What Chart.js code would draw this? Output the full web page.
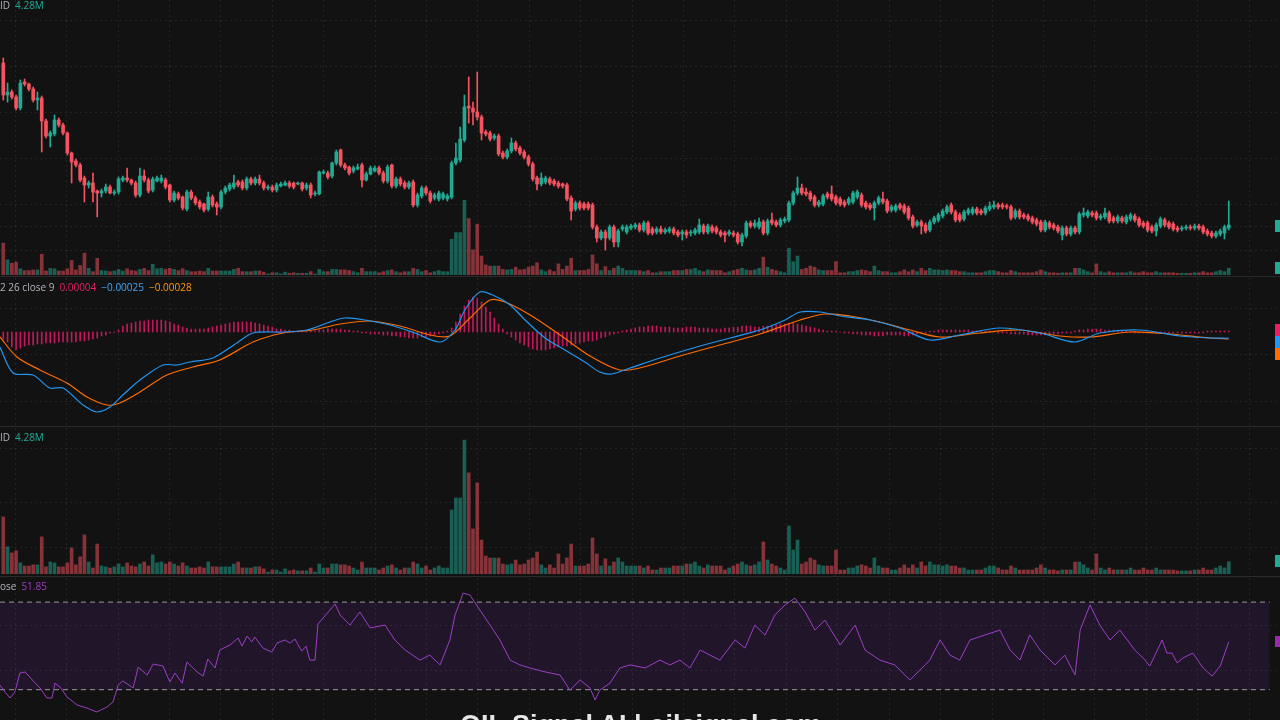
<!DOCTYPE html>
<html>
<head>
<meta charset="utf-8">
<script src="https://cdn.jsdelivr.net/npm/chart.js@4.4.1/dist/chart.umd.min.js"></script>
<style>
  html, body { margin: 0; padding: 0; background: #121212; width: 1280px; height: 720px; overflow: hidden; font-family: "Open Sans", "Noto Sans", sans-serif; }
  canvas { position: absolute; left: 0; }
  .sep { position: absolute; left: 0; width: 1280px; height: 1px; background: #2a2a2a; }
  .lbl { position: absolute; left: 0; font-size: 10px; line-height: 12px; color: #b2b5be; white-space: nowrap; }
  .lbl span { margin-left: 5px; }
  .tag { position: absolute; left: 1275px; width: 5px; }
  .wm { position: absolute; left: 460px; top: 709px; font: bold 27px "Liberation Sans", Arial, sans-serif; line-height: 32px; color: #e6e6e6; white-space: nowrap; }
</style>
</head>
<body>
<canvas id="priceChart" width="1280" height="275" style="top:0"></canvas>
<canvas id="macdChart" width="1280" height="147" style="top:278px"></canvas>
<canvas id="volChart" width="1280" height="146" style="top:428px"></canvas>
<canvas id="rsiChart" width="1280" height="142" style="top:578px"></canvas>

<div class="sep" style="top:276px"></div>
<div class="sep" style="top:426px"></div>
<div class="sep" style="top:576px"></div>

<div class="lbl" style="top:-1px">ID<span style="color:#22ab94">4.28M</span></div>
<div class="lbl" style="top:281px">2 26 close 9<span style="color:#e91e63">0.00004</span><span style="color:#42a5f5">−0.00025</span><span style="color:#ff9800">−0.00028</span></div>
<div class="lbl" style="top:431px">ID<span style="color:#22ab94">4.28M</span></div>
<div class="lbl" style="top:580px">ose<span style="color:#9c3fc4">51.85</span></div>

<div class="tag" style="top:220px;height:12px;background:#22ab94"></div>
<div class="tag" style="top:262px;height:12px;background:#22ab94"></div>
<div class="tag" style="top:324px;height:12px;background:#e91e63"></div>
<div class="tag" style="top:336px;height:12px;background:#2196f3"></div>
<div class="tag" style="top:348px;height:12px;background:#ff6d00"></div>
<div class="tag" style="top:555px;height:12px;background:#22ab94"></div>
<div class="tag" style="top:636px;height:11px;background:#9c27b0"></div>

<div class="wm">OIL Signal AI | oilsignal.com</div>

<script>
// candles, oldest first
const openP = [
  217,185,188,183,172,198,196,191,180,182, 159,144,146,160,155,147,127,119,115,102,
  95,97,89,87,89,93,87,88,100,102, 100,97,85,104,100,90,99,99,100,95,
  80,86,83,71,88,82,78,76,71,83, 76,73,88,91,93,98,98,92,101,97,
  101,97,92,93,90,94,95,97,97,96, 97,92,95,86,86,107,107,104,117,130,
  115,113,109,111,115,100,106,109,112,107, 99,115,94,101,97,93,98,75,84,92,
  87,82,81,82,81,83,117,120,140,174, 172,168,163,148,147,142,144,127,123,129,
  137,132,128,123,116,102,96,98,101,99, 97,96,95,82,71,77,76,76,75,53,
  42,48,42,53,38,51,48,52,53,55, 50,57,51,48,51,48,49,51,48,46,
  48,47,47,48,54,48,53,52,48,47, 46,47,46,38,44,57,54,53,58,47,
  60,58,55,59,60,77,87,92,88,87, 83,75,76,86,86,83,81,78,77,78,
  83,85,77,75,72,77,81,79,70,70, 75,74,72,63,55,58,55,50,58,60,
  64,68,75,68,65,61,67,67,71,69, 67,71,73,75,75,74,73,63,69,65,
  64,62,60,58,50,57,55,53,45,52, 46,52,48,65,64,67,67,62,63,67,
  62,59,62,58,61,64,61,57,57,53, 49,54,60,57,56,52,51,52,53,52,
  54,53,49,47,44,46,47,52
];
const highP = [
  222,197,190,185,200,201,197,193,188,184, 161,149,165,162,157,148,128,121,117,104,
  99,107,90,91,96,95,90,103,104,112, 101,99,112,110,102,103,104,105,102,96,
  89,88,84,90,90,84,80,77,88,85, 78,90,94,97,105,100,100,103,103,103,
  105,99,95,95,97,98,99,99,98,98, 98,97,97,89,109,110,109,118,130,131,
  117,114,114,116,117,108,114,114,114,109, 115,116,103,103,99,99,100,87,94,94,
  89,87,89,88,86,119,137,153,185,203, 178,208,165,150,149,146,146,129,131,142,
  139,134,130,125,118,104,107,104,103,101, 99,97,97,84,79,79,78,78,77,55,
  50,50,55,55,51,55,55,56,57,57, 59,59,53,53,54,52,53,53,50,50,
  50,50,52,61,56,56,55,54,50,49, 50,49,48,47,59,59,60,62,60,61,
  67,60,62,63,79,89,103,96,92,89, 85,80,86,88,94,85,83,80,83,89,
  90,87,79,77,79,84,88,81,75,76, 77,76,74,65,60,60,57,60,64,67,
  71,75,77,70,67,70,72,73,73,71, 74,78,79,77,77,76,75,71,71,67,
  66,64,62,60,60,59,57,55,54,54, 54,54,68,72,70,69,69,66,72,69,
  64,65,64,65,67,66,63,59,59,55, 57,63,62,59,58,54,54,55,55,56,
  56,55,51,49,49,51,55,79
];
const lowP = [
  180,178,181,170,170,194,189,178,170,128, 142,133,144,153,145,125,97,113,98,78,
  92,78,63,83,87,86,85,86,98,98, 95,83,83,98,87,88,98,97,91,78,
  78,80,70,69,80,75,71,68,69,73, 65,71,86,89,91,93,90,90,95,95,
  95,90,90,88,88,93,94,92,91,95, 89,90,82,84,85,106,101,102,115,113,
  110,105,107,110,93,99,105,108,105,97, 97,92,92,94,91,91,73,73,82,85,
  77,80,79,80,79,81,115,118,138,157, 155,160,140,144,139,140,124,121,121,127,
  129,125,121,114,99,90,94,96,95,94, 92,92,79,60,69,70,70,70,51,38,
  40,30,40,33,33,49,46,50,51,48, 48,45,45,46,46,46,47,45,43,40,
  42,44,45,46,46,46,47,46,43,38, 44,43,36,34,42,52,52,51,45,45,
  55,53,53,57,58,75,85,85,84,79, 73,73,74,81,79,75,74,73,75,76,
  81,73,71,70,60,75,76,67,68,68, 70,66,60,52,53,46,47,48,56,58,
  62,66,66,58,58,59,65,65,65,65, 65,69,71,71,71,71,60,61,61,61,
  59,56,54,48,48,51,50,47,40,44, 44,46,46,63,62,63,60,60,61,57,
  57,57,57,56,59,58,53,52,48,47, 44,52,53,51,49,48,49,50,50,50,
  50,46,44,42,42,44,41,50
];
const closeP = [
  185,188,183,172,197,196,191,180,182,159, 144,147,160,155,147,127,118,115,100,95,
  97,88,87,89,93,87,88,101,102,100, 97,85,104,100,89,101,102,102,93,80,
  87,82,72,88,82,77,73,70,83,75, 73,88,92,95,97,95,92,101,97,101,
  97,92,93,90,95,96,97,94,93,97, 91,95,85,87,108,108,103,117,128,115,
  112,107,112,113,100,106,112,112,107,99, 113,94,101,96,93,97,75,85,92,87,
  79,85,87,86,84,117,122,141,173,172, 168,163,147,146,141,144,126,123,129,137,
  131,127,123,116,101,96,102,102,97,96, 94,94,81,69,77,72,72,72,53,42,
  48,42,53,38,49,53,53,54,55,50, 57,47,47,51,48,50,51,47,45,48,
  45,48,50,55,48,54,49,48,45,45, 48,45,38,45,57,54,57,58,47,59,
  57,55,60,61,77,87,92,87,86,81, 75,78,84,83,81,77,76,75,81,87,
  88,75,73,72,77,82,78,69,73,74, 72,68,62,54,58,54,49,58,62,65,
  69,73,68,60,60,68,70,71,67,67, 72,74,75,73,73,73,62,69,63,63,
  61,58,56,50,58,53,52,49,52,46, 52,48,66,67,68,65,62,64,67,59,
  59,63,59,63,65,60,55,54,50,49, 55,61,55,53,51,50,52,53,52,54,
  52,48,46,44,47,49,53,55
];
// volume in millions
const volume = [
  20.0,9.5,7.4,8.1,3.9,2.8,2.8,3.2,3.2,13.0, 2.5,4.2,3.9,2.5,2.5,3.9,9.1,3.2,6.0,13.7,
  4.2,2.1,10.5,2.8,2.5,2.1,2.5,3.5,2.5,3.9, 2.8,2.5,3.5,4.2,2.8,6.7,3.9,4.2,3.5,4.2,
  3.5,2.8,3.9,2.8,2.1,2.1,2.5,2.1,4.2,2.5, 2.5,2.5,2.5,2.5,3.5,4.2,2.1,2.1,2.1,2.5,
  2.5,1.8,0.7,1.4,1.4,0.7,1.8,1.1,1.4,1.1, 1.1,1.1,2.1,0.7,3.5,2.1,2.1,3.5,3.5,3.2,
  3.2,2.8,2.1,1.4,4.2,2.1,2.1,2.1,1.4,2.1, 2.8,3.2,2.1,1.4,2.1,2.1,4.2,3.5,2.1,2.8,
  1.4,2.1,2.8,2.1,2.1,22.4,26.6,26.6,46.9,35.4, 15.8,31.9,11.9,6.3,5.6,5.6,5.6,3.5,3.2,3.5,
  4.9,3.2,3.5,4.9,5.6,7.7,3.2,2.1,3.2,2.1, 7.0,3.5,5.6,10.5,2.8,2.8,2.8,3.5,12.6,7.0,
  2.8,5.3,2.8,4.2,5.6,4.2,2.8,2.8,2.8,2.8, 2.1,2.8,1.4,1.4,2.1,2.1,2.1,2.8,2.8,2.8,
  3.5,3.5,4.2,2.8,2.1,3.2,2.8,2.8,2.8,1.4, 2.1,2.8,3.5,4.2,3.2,2.8,3.2,4.2,11.2,4.9,
  3.5,2.8,2.1,1.4,16.8,8.4,11.9,3.5,4.2,5.6, 4.9,3.2,2.8,2.8,2.8,8.4,1.4,1.4,2.1,2.1,
  2.8,3.2,2.8,2.1,5.6,2.8,2.1,2.1,1.4,1.4, 2.1,3.2,2.1,3.2,2.1,4.2,2.8,4.2,3.2,3.2,
  2.8,3.2,2.8,2.8,2.1,2.1,1.4,1.4,1.4,1.4, 2.1,2.8,2.8,2.1,1.4,1.4,2.8,2.1,1.4,1.4,
  1.4,1.4,2.1,3.2,2.1,1.4,1.4,1.1,1.4,1.4, 1.4,4.2,4.2,3.2,2.1,1.4,7.0,2.1,1.4,2.1,
  1.4,1.4,1.4,1.4,2.1,1.4,1.4,2.1,1.4,1.4, 2.1,1.4,1.4,1.4,1.4,1.1,1.1,1.1,1.1,1.4,
  1.4,2.1,1.4,1.4,2.1,2.8,2.1,4.28
];
// MACD 12 26 9, values x1e-4
const macdHist = [
  -2.8,-4.0,-6.0,-7.2,-6.4,-5.6,-5.2,-5.2,-4.8,-4.8, -4.4,-4.4,-4.4,-4.0,-4.0,-4.0,-4.0,-4.0,-3.6,-3.6,
  -3.2,-2.8,-2.4,-1.6,-1.2,-0.4,-0.2,0.8,2.4,3.2, 3.6,4.0,4.4,4.4,4.8,4.8,4.8,4.8,4.4,4.0,
  3.2,2.8,2.0,1.6,1.2,1.2,1.2,1.2,1.6,2.0, 2.4,2.8,3.2,3.6,4.0,4.0,4.0,4.0,4.0,3.6,
  3.2,2.8,2.4,2.0,1.2,1.2,0.8,0.8,0.4,0.4, 0.4,0.4,0.4,0.4,0.8,0.8,1.2,1.2,1.2,1.2,
  0.8,0.8,0.4,0.4,-0.4,-0.4,-0.8,-0.8,-0.8,-1.2, -1.2,-1.6,-1.6,-2.0,-2.0,-2.4,-2.4,-2.4,-2.0,-2.0,
  -1.6,-1.2,-0.8,-0.4,0.4,1.6,4.0,7.2,10.4,12.8, 14.0,13.6,12.0,10.0,8.0,5.6,3.2,1.2,-0.8,-2.0,
  -3.2,-4.4,-5.2,-6.0,-6.8,-7.2,-7.2,-7.2,-6.8,-6.4, -6.0,-5.6,-5.6,-5.2,-4.8,-4.4,-4.0,-3.6,-3.6,-3.2,
  -2.4,-2.0,-1.2,-0.8,-0.4,0.4,0.8,1.2,1.6,2.0, 2.0,2.4,2.4,2.4,2.0,2.0,2.0,1.6,1.6,1.6,
  2.0,2.0,2.0,1.6,1.6,1.6,1.2,1.2,1.2,1.6, 1.6,2.0,2.0,2.4,2.4,2.4,2.0,2.0,2.4,2.4,
  2.8,2.8,3.2,3.2,3.6,3.6,3.2,2.8,2.4,2.0, 1.6,1.2,0.8,0.4,0.4,0.4,0.0,-0.4,-0.4,-0.8,
  -0.8,-1.2,-1.2,-1.2,-1.6,-1.6,-1.6,-1.2,-1.2,-1.2, -1.2,-1.6,-1.6,-1.2,-0.8,-0.4,-0.4,0.4,0.4,0.8,
  0.8,0.8,0.8,0.8,0.8,0.8,0.8,0.4,0.4,0.4, 0.4,0.4,0.4,-0.4,-0.4,-0.4,-0.8,-0.8,-0.8,-0.8,
  -1.2,-1.2,-1.2,-1.2,-1.2,-0.8,-0.8,-0.8,-0.4,-0.4, -0.4,0.4,0.8,0.8,1.2,1.2,1.2,1.2,0.8,0.8,
  0.8,0.4,0.4,0.4,0.4,-0.4,-0.4,-0.4,-0.4,-0.4, -0.4,-0.4,-0.4,-0.4,-0.4,-0.4,-0.4,-0.4,-0.4,-0.4,
  -0.4,-0.4,0.4,0.4,0.4,0.4,0.4,0.4
];
// [bar index, value]
const macdLine = [
  [-0.8,-6.0],[2.3,-16.4],[7.0,-17.2],[10.9,-22.4],[14.0,-22.4],[18.7,-29.2],[21.9,-32.0],[25.0,-30.0],
  [28.0,-25.2],[32.0,-19.2],[37.4,-13.2],[40.7,-13.2],[43.7,-12.0],[49.1,-10.4],[54.7,-4.4],[58.5,-0.4],
  [65.5,0],[71.1,0.8],[76.5,4.0],[80.0,5.6],[84.7,4.8],[90.6,2.8],[96.4,-0.4],[102.3,-4.0],
  [105.8,0.8],[108.1,8.8],[111.6,16.0],[115.1,14.4],[118.7,10.8],[122.2,4.8],[126.9,-2.4],[131.5,-7.2],
  [136.2,-12.0],[139.7,-16.0],[142.5,-16.8],[146.8,-14.4],[153.8,-10.4],[163.2,-5.6],[170.2,-2.4],[177.2,0.8],
  [183.1,4.8],[186.6,8.0],[191.3,8.0],[196.0,6.4],[203.0,4.8],[210.0,1.6],[217.0,-3.2],[224.0,-1.2],
  [233.4,1.6],[242.8,-0.4],[251.0,-4.0],[256.8,-0.4],[266.2,0.8],[275.6,-1.6],[282.6,-2.4],[287.0,-2.5]
];
const signalLine = [
  [-0.8,-2.0],[3.2,-10.0],[8.6,-15.2],[14.9,-20.4],[19.6,-26.0],[24.3,-29.2],[27.3,-28.4],[32.0,-24.0],
  [38.3,-17.2],[44.4,-14.0],[50.7,-11.2],[58.5,-4.0],[65.5,-0.4],[72.5,0.8],[78.9,3.2],[85.9,4.4],
  [92.9,2.4],[100.0,-1.2],[104.6,-1.6],[109.3,5.6],[114.0,12.8],[117.5,12.0],[123.4,6.8],[130.4,-1.2],
  [137.4,-9.6],[144.4,-15.2],[149.1,-14.4],[158.5,-9.6],[167.8,-5.2],[177.2,-0.8],[186.6,4.8],[192.4,7.2],
  [198.3,6.4],[205.3,4.0],[212.4,0.8],[219.4,-2.0],[228.7,-0.4],[238.1,0.8],[247.5,-1.6],[254.5,-2.0],
  [263.9,0],[273.2,-0.8],[282.6,-2.4],[287.0,-2.8]
];
// RSI 14 close
const rsiLine = [
  [-0.8,32.1],[0.4,28.9],[1.6,26.2],[2.7,28.9],[3.9,37.6],[5.1,38.1],[7.0,34.0],[8.6,30.8],[10.2,26.2],
  [11.4,26.2],[12.1,33.0],[13.3,31.2],[14.9,26.7],[17.3,23.0],[19.6,21.6],[21.9,19.8],[24.3,22.1],
  [25.7,24.4],[26.9,32.1],[28.0,34.0],[30.4,30.8],[31.6,40.3],[33.7,36.7],[35.1,41.7],[37.4,40.8],
  [39.0,33.5],[40.2,37.6],[41.9,33.0],[43.0,42.6],[45.4,38.1],[46.8,36.2],[47.9,44.0],[49.6,39.9],
  [50.7,48.1],[53.1,50.4],[55.0,53.6],[55.9,49.9],[57.1,54.5],[58.2,51.8],[58.9,54.0],[60.8,49.0],
  [62.9,47.2],[64.1,51.3],[66.0,52.7],[67.1,51.3],[68.3,53.1],[69.9,47.6],[70.9,49.9],[71.8,43.5],
  [73.0,43.5],[73.7,60.0],[77.7,69.1],[78.9,64.1],[81.2,59.5],[83.5,65.5],[85.9,58.2],[89.4,59.5],
  [91.7,52.7],[94.1,48.1],[97.6,43.5],[99.9,45.8],[102.3,41.3],[104.6,52.7],[105.8,64.1],[107.7,74.1],
  [109.3,73.2],[111.6,66.4],[114.0,59.5],[116.3,52.7],[118.7,43.5],[121.0,41.3],[123.4,39.9],[126.9,38.1],
  [130.4,36.7],[132.7,29.8],[135.1,34.4],[137.4,30.8],[138.6,25.3],[139.7,29.8],[142.1,33.0],[144.4,39.9],
  [146.8,41.3],[150.3,39.9],[153.8,43.5],[156.1,41.3],[158.5,43.5],[160.8,39.9],[163.2,48.1],[165.5,45.8],
  [167.8,43.5],[171.4,52.7],[173.7,49.0],[176.0,59.5],[178.4,54.9],[180.7,64.1],[183.1,68.7],[185.4,71.8],
  [187.8,65.5],[190.1,57.2],[192.4,61.8],[196.0,50.4],[199.5,59.5],[201.8,48.1],[205.3,43.5],[208.8,41.3],
  [212.3,34.4],[214.7,39.0],[217.0,43.5],[219.4,52.7],[221.7,45.8],[224.0,43.5],[226.4,52.7],[229.9,55.0],
  [233.4,57.2],[235.8,48.1],[238.1,43.5],[240.4,55.0],[242.8,48.1],[246.3,41.3],[248.6,45.8],[251.0,36.7],
  [252.2,57.2],[254.5,68.7],[256.8,59.5],[259.2,52.7],[261.5,57.2],[265.0,48.1],[267.4,43.5],[268.5,40.8],
  [271.4,52.7],[272.5,46.7],[273.7,46.7],[274.9,42.2],[276.3,44.5],[278.6,46.7],[281.0,39.9],[283.1,36.2],
  [285.0,40.8],[287.0,51.85]
];
const rsiUpper = 70;
const rsiLower = 30;

// look
const UP = '#22ab94', DOWN = '#f7525f';
const UP_VOL = 'rgba(34,171,148,0.5)', DOWN_VOL = 'rgba(247,82,95,0.5)';
const GRID = 'rgba(255,255,255,0.08)';
const X_MIN = -0.77, X_MAX = 299.0;

const isUp = i => closeP[i] >= openP[i];
const pts = arr => arr.map(([x, y]) => ({ x, y }));

const gridCols = [];
for (let v = 2.8; v < X_MAX; v += 12.04) gridCols.push(v);

function xScale() {
  return {
    type: 'linear', min: X_MIN, max: X_MAX, offset: false,
    ticks: { display: false }, grid: { color: GRID, drawTicks: false, offset: false },
    border: { display: false, dash: [2, 3] },
    afterBuildTicks: s => { s.ticks = gridCols.map(v => ({ value: v })); },
    afterFit: s => { s.height = 0; }
  };
}
function yScale(min, max, gridRows) {
  return {
    min, max, position: 'right',
    ticks: { display: false }, grid: { color: GRID, drawTicks: false },
    border: { display: false, dash: [2, 3] },
    afterBuildTicks: s => { s.ticks = gridRows.map(v => ({ value: v })); },
    afterFit: s => { s.width = 0; }
  };
}
const baseOpts = {
  responsive: false, animation: false, devicePixelRatio: 1,
  layout: { padding: 0 },
  plugins: { legend: { display: false }, tooltip: { enabled: false } }
};

// price pane with volume overlay
new Chart(document.getElementById('priceChart'), {
  type: 'bar',
  data: {
    datasets: [
      {
        data: volume.map((v, i) => ({ x: i, y: v })), yAxisID: 'yv', order: 3,
        barThickness: 3, grouped: false,
        backgroundColor: ctx => isUp(ctx.dataIndex) ? UP_VOL : DOWN_VOL
      },
      {
        data: openP.map((o, i) => ({ x: i, y: [lowP[i], highP[i]] })), order: 2,
        barThickness: 1, grouped: false,
        backgroundColor: ctx => isUp(ctx.dataIndex) ? UP : DOWN
      },
      {
        data: openP.map((o, i) => ({ x: i, y: [o, closeP[i]] })), order: 1,
        barThickness: 3, grouped: false, minBarLength: 1,
        backgroundColor: ctx => isUp(ctx.dataIndex) ? UP : DOWN
      }
    ]
  },
  options: {
    ...baseOpts,
    scales: {
      x: xScale(),
      y: yScale(5, 280, [260, 214, 167.3, 121.7, 76, 54, 30]),
      yv: { min: 0, max: 172.4, display: false }
    }
  }
});

// MACD pane
new Chart(document.getElementById('macdChart'), {
  type: 'bar',
  data: {
    datasets: [
      {
        data: macdHist.map((v, i) => ({ x: i, y: v })), order: 3,
        barThickness: 1, grouped: false, backgroundColor: '#c2185b'
      },
      {
        type: 'line', data: pts(macdLine), order: 1,
        borderColor: '#2196f3', borderWidth: 1.2, pointRadius: 0, tension: 0.3
      },
      {
        type: 'line', data: pts(signalLine), order: 2,
        borderColor: '#ff6d00', borderWidth: 1.2, pointRadius: 0, tension: 0.3
      }
    ]
  },
  options: {
    ...baseOpts,
    scales: { x: xScale(), y: yScale(-37.2, 21.6, [9.6, -9.2, -28]) }
  }
});

// volume pane
new Chart(document.getElementById('volChart'), {
  type: 'bar',
  data: {
    datasets: [{
      data: volume.map((v, i) => ({ x: i, y: v })),
      barThickness: 3, grouped: false,
      backgroundColor: ctx => isUp(ctx.dataIndex) ? UP_VOL : DOWN_VOL
    }]
  },
  options: {
    ...baseOpts,
    scales: { x: xScale(), y: yScale(0, 51.1, [44.1, 25.2, 9.45]) }
  }
});

// RSI pane
const BAND_END = 296.6;
new Chart(document.getElementById('rsiChart'), {
  type: 'line',
  data: {
    datasets: [
      {
        data: [{ x: X_MIN, y: rsiUpper }, { x: BAND_END, y: rsiUpper }], order: 2,
        borderColor: '#9a9a9a', borderWidth: 1, borderDash: [5, 4], pointRadius: 0, fill: false
      },
      {
        data: [{ x: X_MIN, y: rsiLower }, { x: BAND_END, y: rsiLower }], order: 2,
        borderColor: '#9a9a9a', borderWidth: 1, borderDash: [5, 4], pointRadius: 0,
        fill: '-1', backgroundColor: 'rgba(120,40,180,0.15)'
      },
      {
        data: pts(rsiLine), order: 1,
        borderColor: '#9c3fc4', borderWidth: 1, pointRadius: 0, tension: 0
      }
    ]
  },
  options: {
    ...baseOpts,
    scales: { x: xScale(), y: yScale(16.15, 81.0, [59.5, 38.9]) }
  }
});
</script>
</body>
</html>
